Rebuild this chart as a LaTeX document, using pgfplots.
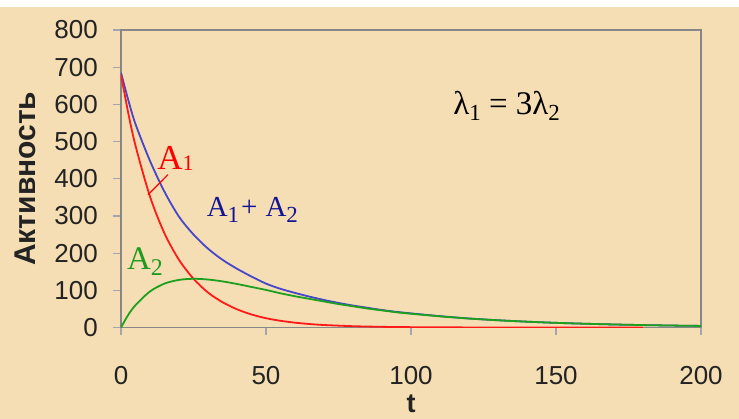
\documentclass[border=0pt]{standalone}
\usepackage{pgfplots}
\pgfplotsset{compat=1.18}
\usepackage{fontspec}
\setmainfont{Liberation Sans}
\newfontfamily\tms{Liberation Serif}
\definecolor{bg}{RGB}{245,222,179}
\definecolor{axgray}{RGB}{135,135,135}
\definecolor{tickgray}{RGB}{165,165,178}
\definecolor{lblgray}{RGB}{35,35,35}
\definecolor{cred}{RGB}{255,25,25}
\definecolor{cgreen}{RGB}{30,160,30}
\definecolor{cblue}{RGB}{70,70,200}
\definecolor{tred}{RGB}{255,0,0}
\definecolor{tblue}{RGB}{20,20,150}
\definecolor{tgreen}{RGB}{30,155,30}
\newcommand{\sub}[3]{\raisebox{#2}{\fontsize{#1}{#1}\selectfont #3}}
\begin{document}
\begin{tikzpicture}
\useasboundingbox (0,0) rectangle (739pt,419pt);
\fill[white] (0,0) rectangle (739pt,419pt);
\fill[bg] (0,0) rectangle (739pt,412pt);
\begin{axis}[
  at={(121pt,91.5pt)}, anchor=south west,
  scale only axis, width=580pt, height=297.5pt,
  xmin=0, xmax=200, ymin=0, ymax=800,
  xtick={0,50,100,150,200}, ytick={0,100,200,300,400,500,600,700,800},
  axis line style={draw=axgray, line width=1.6pt},
  tick align=outside, xtick pos=left, ytick pos=left,
  major tick length=8pt,
  tick style={draw=tickgray, line width=1.2pt},
  ticklabel style={font=\fontsize{26}{26}\selectfont, text=lblgray, inner sep=0pt},
  /pgf/number format/assume math mode=true,
  yticklabel style={anchor=east, xshift=-15pt},
  xticklabel style={anchor=north, yshift=-31pt},
  xlabel={t}, ylabel={Активность},
  xlabel style={font=\bfseries\fontsize{27}{27}\selectfont, text=lblgray, at={(axis description cs:0.5,-0.287)}, anchor=base, inner sep=0pt},
  ylabel style={font=\bfseries\fontsize{30}{30}\selectfont, text=lblgray, at={(axis description cs:-0.148,0.5)}, anchor=base, inner sep=0pt},
]
\addplot[cblue, line width=1.8pt, smooth] coordinates {
(0,685)(2.5,612)(5,547)(10,448)(15,365)(20,298)(25,250)(30,212)(35,182)(40,158)(45,137)(50,118)(55,104)(60,93)(65,83)(70,74)(75,66)(80,59)(85,53)(90,47)(95,42)(100,38)(110,30.5)(120,24.3)(130,19.5)(140,15.7)(150,12.5)(160,10.1)(170,8.1)(180,6.5)(190,5.2)(200,4.2)};
\addplot[cred, line width=1.8pt, smooth] coordinates {
(0,680)(2.5,577)(5,489)(10,352)(15,253)(20,182)(25,131)(30,94)(35,68)(40,49)(45,35)(50,25)(55,18)(60,13)(65,9.3)(70,6.7)(80,3.5)(90,1.8)(100,0.9)(120,0.2)(140,0.1)(160,0)(180,0)};
\addplot[cgreen, line width=1.8pt, smooth] coordinates {
(0,0)(2.5,34)(5,60)(10,97)(15,118)(20,128)(25,131)(30,129)(35,124)(40,117)(45,109)(50,101)(55,92)(60,84)(65,77)(70,70)(75,63)(80,57)(85,51)(90,46)(95,41)(100,37)(110,30)(120,24)(130,19.4)(140,15.6)(150,12.5)(160,10.1)(170,8.1)(180,6.5)(190,5.2)(200,4.2)};
\draw[tred, line width=1.2pt] (axis cs:16.2,411) -- (axis cs:9.3,357);
\node[anchor=base west, inner sep=0pt, text=tred, font=\tms\fontsize{35}{35}\selectfont] at (axis cs:12.5,424) {A\sub{22}{-1pt}{1}};
\node[anchor=base west, inner sep=0pt, text=tblue, font=\tms\fontsize{29}{29}\selectfont] at (axis cs:29.5,298) {A\sub{23}{-6pt}{1}\hspace{2pt}+\hspace{8pt}A\sub{23}{-6pt}{2}};
\node[anchor=base west, inner sep=0pt, text=tgreen, font=\tms\fontsize{33}{33}\selectfont] at (axis cs:2.0,156) {A\sub{24}{-6pt}{2}};
\node[anchor=base west, inner sep=0pt, text=black, font=\tms\fontsize{33}{33}\selectfont] at (axis cs:114.5,572) {λ\sub{23}{-6pt}{1} = 3λ\sub{23}{-6pt}{2}};
\end{axis}
\end{tikzpicture}
\end{document}
